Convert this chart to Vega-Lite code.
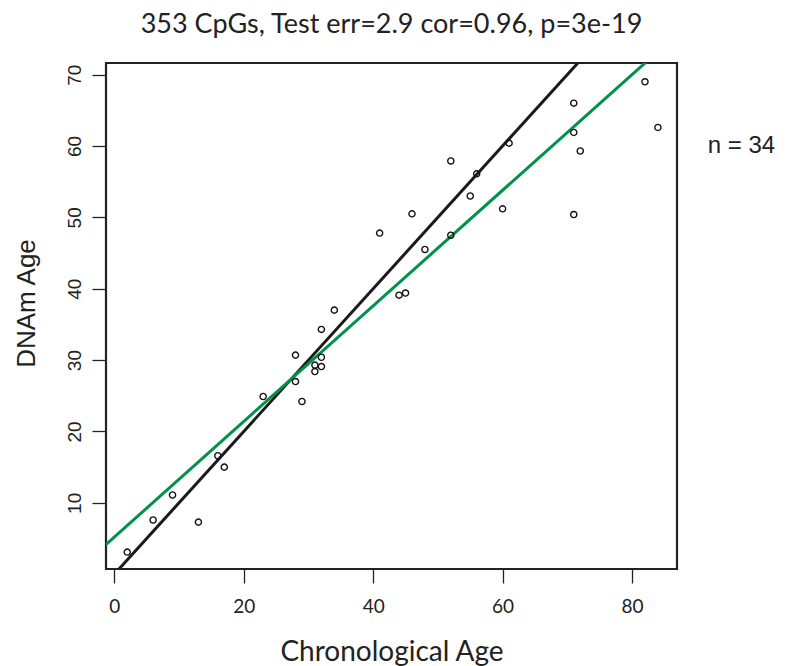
{
  "$schema": "https://vega.github.io/schema/vega-lite/v6.json",
  "width": 571,
  "height": 506,
  "autosize": {"type": "none"},
  "padding": {"left": 106, "top": 63, "right": 111, "bottom": 97},
  "background": "white",
  "title": {
    "text": "353 CpGs, Test err=2.9 cor=0.96, p=3e-19",
    "anchor": "middle",
    "frame": "group",
    "font": "Lato",
    "fontSize": 27,
    "fontWeight": "normal",
    "color": "#222222",
    "offset": 24
  },
  "datasets": {
    "pts": [
      {"age": 2, "dnam": 3.1}, {"age": 6, "dnam": 7.6}, {"age": 9, "dnam": 11.1}, {"age": 13, "dnam": 7.3},
      {"age": 16, "dnam": 16.6}, {"age": 17, "dnam": 15.0}, {"age": 23, "dnam": 24.9}, {"age": 28, "dnam": 30.7},
      {"age": 28, "dnam": 27.0}, {"age": 29, "dnam": 24.2}, {"age": 31, "dnam": 29.3}, {"age": 31, "dnam": 28.4},
      {"age": 32, "dnam": 30.4}, {"age": 32, "dnam": 29.1}, {"age": 32, "dnam": 34.3}, {"age": 34, "dnam": 37.0},
      {"age": 41, "dnam": 47.8}, {"age": 44, "dnam": 39.1}, {"age": 45, "dnam": 39.4}, {"age": 46, "dnam": 50.5},
      {"age": 48, "dnam": 45.5}, {"age": 52, "dnam": 57.9}, {"age": 52, "dnam": 47.5}, {"age": 55, "dnam": 53.0},
      {"age": 56, "dnam": 56.1}, {"age": 60, "dnam": 51.2}, {"age": 61, "dnam": 60.4}, {"age": 71, "dnam": 66.0},
      {"age": 71, "dnam": 61.9}, {"age": 72, "dnam": 59.3}, {"age": 71, "dnam": 50.4}, {"age": 82, "dnam": 69.0},
      {"age": 84, "dnam": 62.6}
    ],
    "ident": [{"age": -5, "dnam": -5}, {"age": 95, "dnam": 95}],
    "fit": [{"age": -5, "dnam": 1.15}, {"age": 95, "dnam": 82.15}],
    "note": [{"age": 91.7, "dnam": 60, "label": "n = 34"}]
  },
  "encoding": {
    "x": {
      "field": "age", "type": "quantitative",
      "scale": {"domain": [-1.28, 86.95], "nice": false, "zero": false},
      "axis": {"values": [0, 20, 40, 60, 80], "title": "Chronological Age"}
    },
    "y": {
      "field": "dnam", "type": "quantitative",
      "scale": {"domain": [0.73, 71.63], "nice": false, "zero": false},
      "axis": {"values": [10, 20, 30, 40, 50, 60, 70], "title": "DNAm Age",
               "labelAngle": -90, "labelAlign": "center", "labelBaseline": "bottom"}
    }
  },
  "layer": [
    {"data": {"name": "ident"}, "mark": {"type": "line", "color": "#1a1a1a", "strokeWidth": 3, "clip": true}},
    {"data": {"name": "fit"}, "mark": {"type": "line", "color": "#00924a", "strokeWidth": 3, "clip": true}},
    {"data": {"name": "pts"}, "mark": {"type": "point", "shape": "circle", "size": 38, "filled": false, "color": "#111111", "strokeWidth": 1.4, "opacity": 1}},
    {"data": {"name": "note"}, "mark": {"type": "text", "align": "left", "baseline": "middle", "font": "Liberation Sans", "fontSize": 24, "color": "#222222", "clip": false},
     "encoding": {"text": {"field": "label"}}}
  ],
  "config": {
    "view": {"stroke": "#222222", "strokeWidth": 2.2},
    "axis": {
      "grid": false,
      "domain": false,
      "tickColor": "#222222",
      "tickWidth": 1.3,
      "tickSize": 14,
      "labelColor": "#222222",
      "titleFontWeight": "normal",
      "titleColor": "#222222"
    },
    "axisX": {"labelFont": "Lato", "labelFontSize": 19, "labelPadding": 14,
              "titleFont": "Lato", "titleFontSize": 28, "titlePadding": 22},
    "axisY": {"labelFont": "Liberation Sans", "labelFontSize": 19, "labelPadding": 8,
              "titleFont": "Liberation Sans", "titleFontSize": 26, "titlePadding": 26, "titleY": 240}
  }
}
